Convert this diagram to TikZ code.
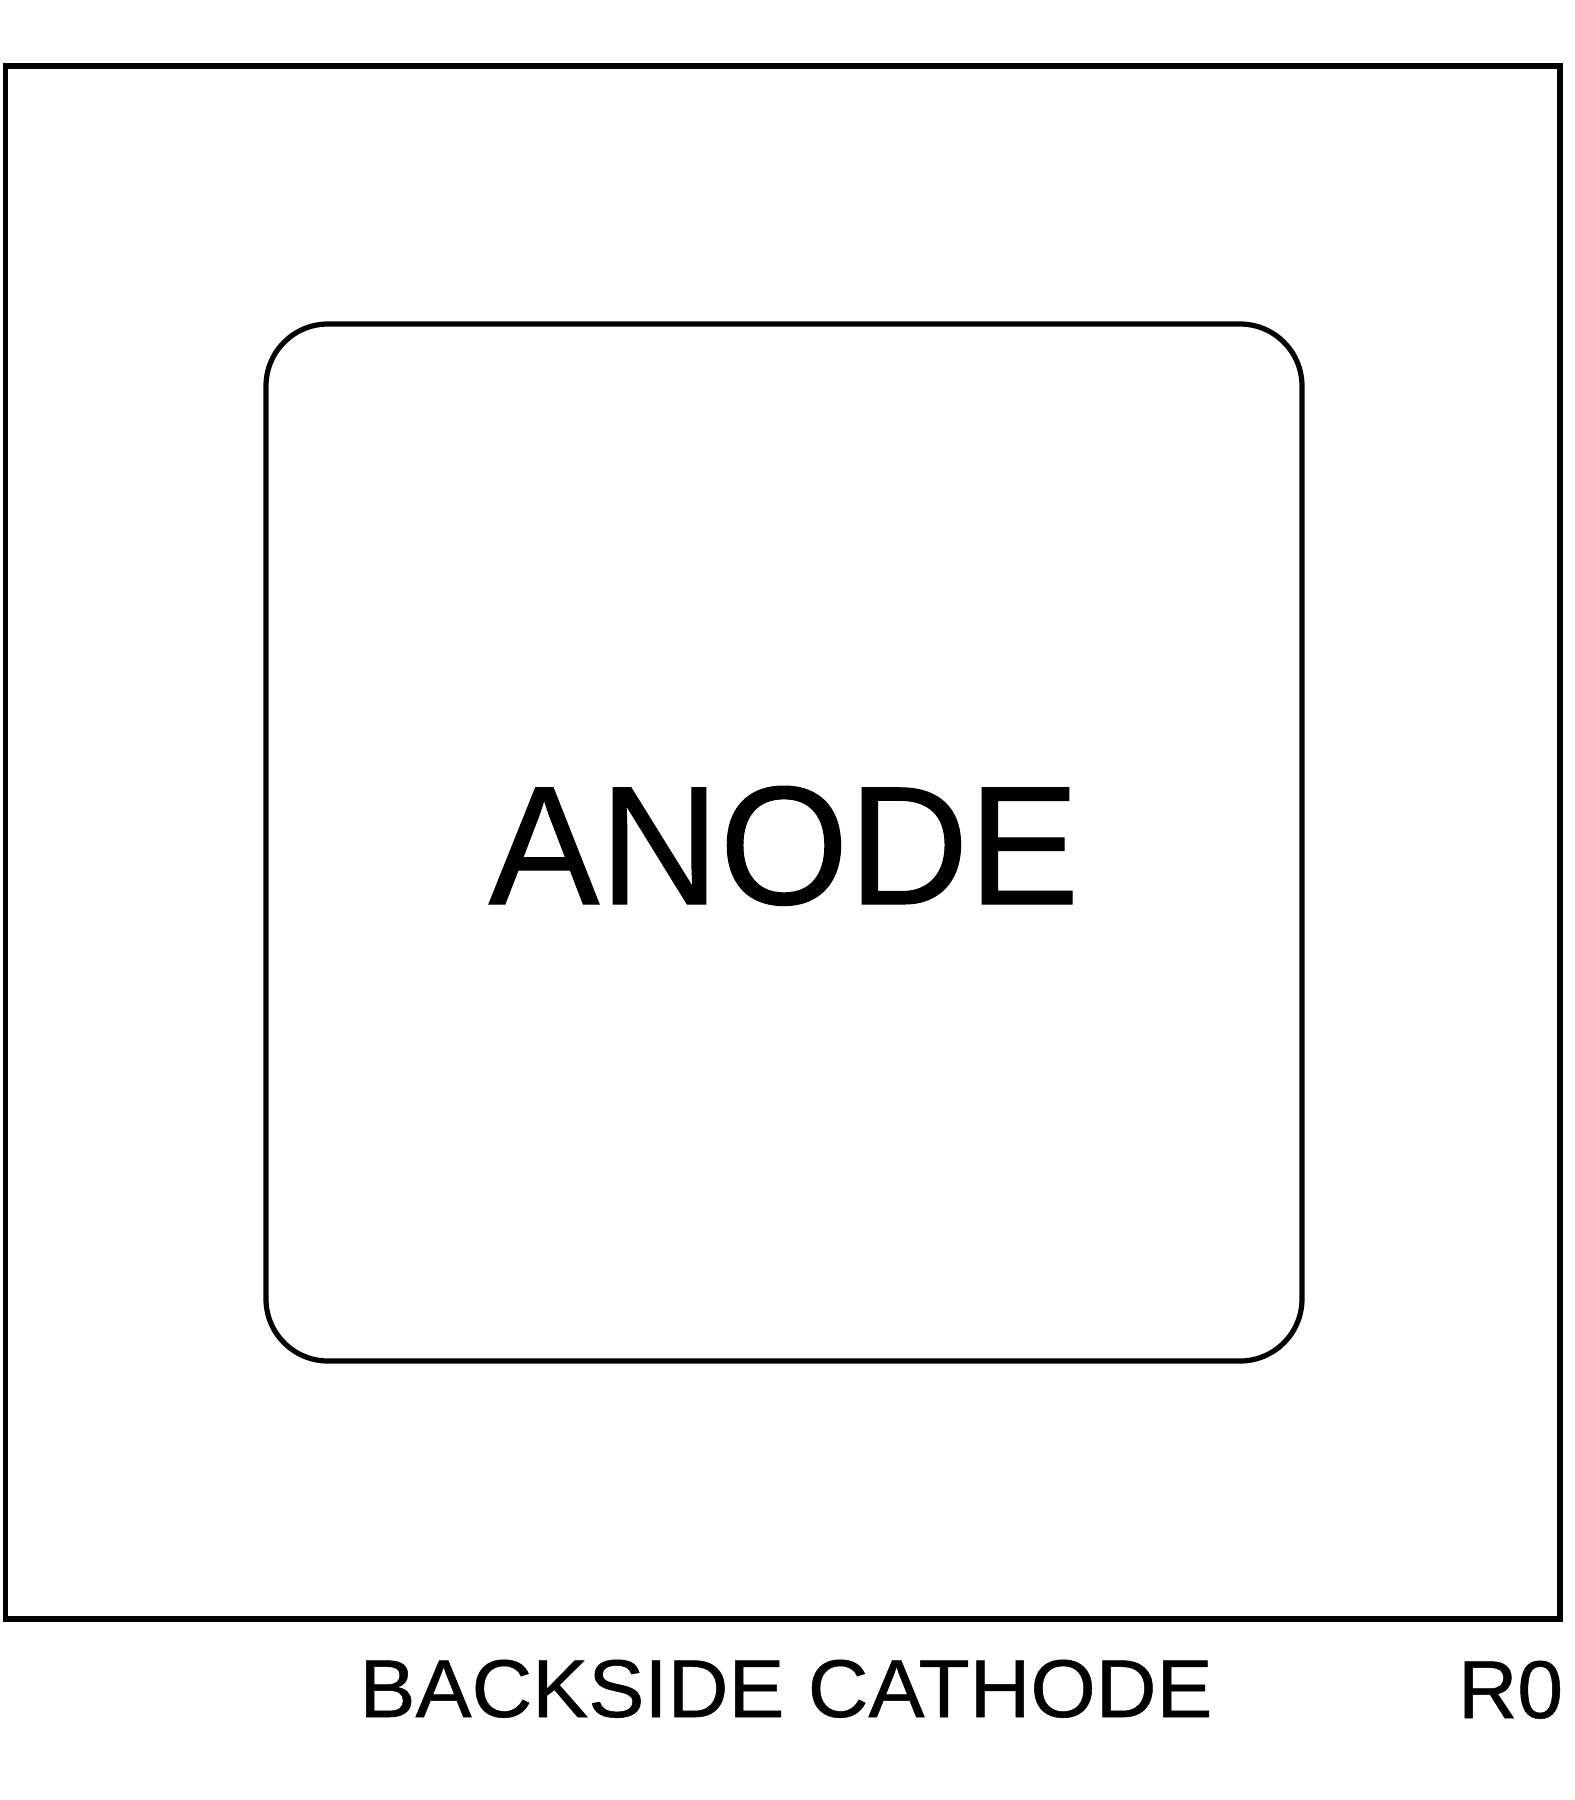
\documentclass[tikz,border=0pt]{standalone}
\usepackage{fontspec}
\setmainfont{Liberation Sans}
\begin{document}
\begin{tikzpicture}[x=0.5pt,y=-0.5pt,
  outline/.style={draw=black,line width=2.6pt},
  label/.style={inner sep=0pt,outer sep=0pt,text=black}]
\useasboundingbox (0,0) rectangle (1575,1800);
\fill[white] (0,0) rectangle (1575,1800);
\draw[outline] (5.5,66) rectangle (1560,1619);
\draw[outline,rounded corners=31pt] (266,324) rectangle (1302,1361);
\node[label,anchor=base,xscale=0.983,font=\fontsize{84.5pt}{90pt}\selectfont\addfontfeature{FakeBold=0.6}] (anode) at (784,904) {ANODE};
\node[label,anchor=base,xscale=1.025,font=\fontsize{41pt}{46pt}\selectfont\addfontfeature{FakeBold=0.6}] (cathode) at (786,1717) {BACKSIDE CATHODE};
\node[label,anchor=base east,font=\fontsize{41pt}{46pt}\selectfont\addfontfeature{FakeBold=0.6}] (rev) at (1563,1718) {R0};
\end{tikzpicture}
\end{document}
